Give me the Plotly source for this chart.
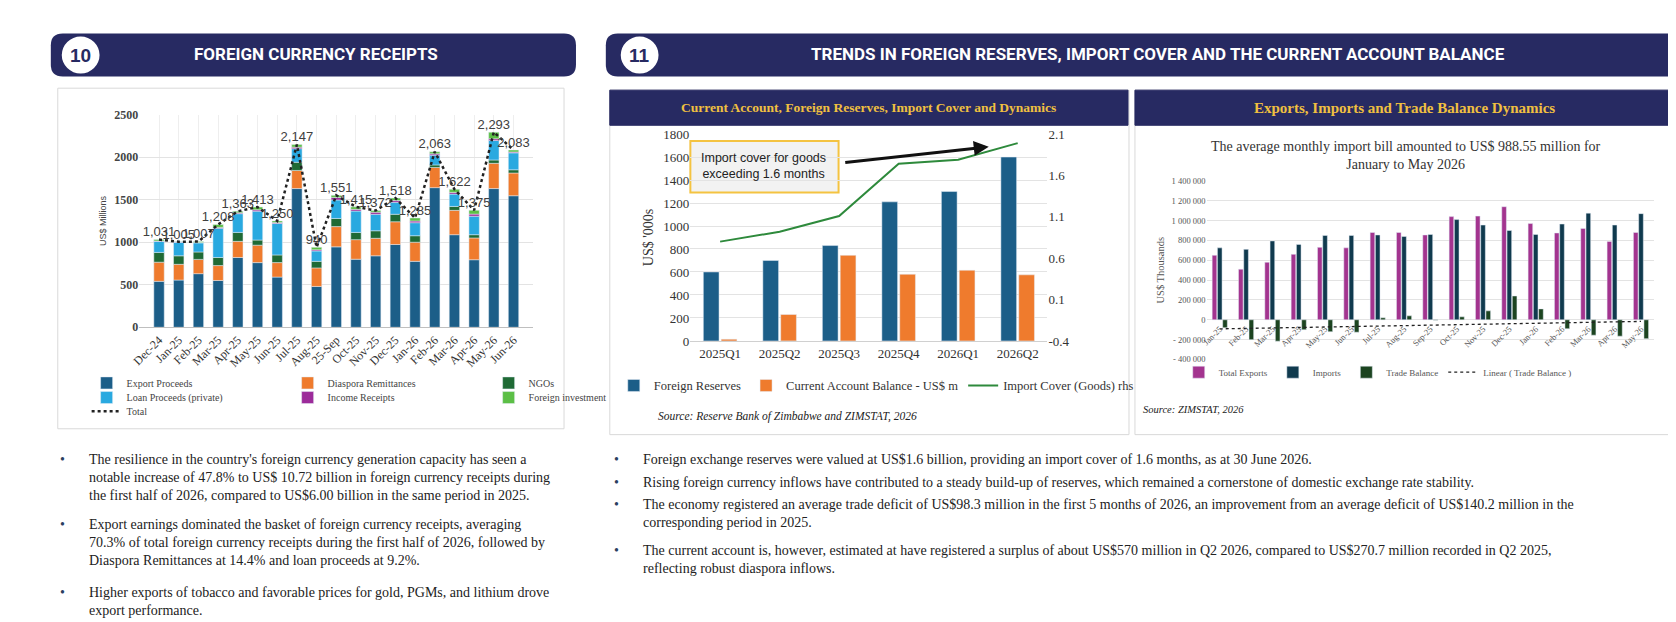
import numpy as np
import plotly.graph_objects as go

W, H = 1676, 622

# ---- chart 10: foreign currency receipts (US$ millions)
months10 = ['Dec-24', 'Jan-25', 'Feb-25', 'Mar-25', 'Apr-25', 'May-25', 'Jun-25', 'Jul-25', 'Aug-25',
            '25-Sep', 'Oct-25', 'Nov-25', 'Dec-25', 'Jan-26', 'Feb-26', 'Mar-26', 'Apr-26', 'May-26', 'Jun-26']
export_proceeds = [540, 555, 630, 550, 820, 760, 590, 1630, 480, 945, 800, 840, 973, 775, 1641, 1088, 794, 1630, 1546]
diaspora = [225, 185, 168, 175, 190, 205, 170, 213, 218, 238, 230, 206, 267, 225, 237, 286, 256, 297, 267]
ngos = [115, 100, 87, 95, 105, 60, 90, 96, 77, 96, 85, 88, 88, 76, 30, 46, 38, 39, 38]
loan_proceeds = [130, 160, 107, 344, 220, 340, 370, 160, 122, 217, 251, 194, 141, 153, 115, 145, 217, 229, 199]
income_receipts = [5, 3, 5, 10, 10, 15, 10, 18, 13, 30, 20, 25, 20, 20, 15, 20, 25, 20, 10]
foreign_inv = [16, 2, 10, 34, 18, 33, 20, 30, 30, 25, 29, 19, 29, 36, 25, 37, 45, 78, 23]
totals10 = [1031, 1005, 1007, 1208, 1363, 1413, 1250, 2147, 940, 1551, 1415, 1372, 1518, 1285, 2063, 1622, 1375, 2293, 2083]

# ---- chart 11a: reserves, current account, import cover
quarters = ['2025Q1', '2025Q2', '2025Q3', '2025Q4', '2026Q1', '2026Q2']
foreign_reserves = [600, 700, 830, 1210, 1300, 1600]
current_account = [15, 230, 745, 580, 615, 575]
import_cover = [0.80, 0.92, 1.11, 1.74, 1.79, 1.99]

# ---- chart 11b: exports, imports, trade balance (US$ thousands)
months11 = ['Jan-25', 'Feb-25', 'Mar-25', 'Apr-25', 'May-25', 'Jun-25', 'Jul-25', 'Aug-25', 'Sep-25', 'Oct-25',
            'Nov-25', 'Dec-25', 'Jan-26', 'Feb-26', 'Mar-26', 'Apr-26', 'May-26']
total_exports = [650, 510, 580, 660, 730, 725, 880, 880, 855, 1040, 1045, 1140, 970, 875, 920, 790, 880]
imports = [725, 710, 795, 760, 850, 850, 855, 840, 860, 1010, 955, 900, 860, 965, 1075, 955, 1070]
trade_balance = [-80, -200, -215, -100, -120, -125, 20, 40, -5, 30, 90, 240, 110, -90, -155, -165, -190]
total_exports = [v * 1000 for v in total_exports]
imports = [v * 1000 for v in imports]
trade_balance = [v * 1000 for v in trade_balance]

NAVY = '#272a62'
SERIF = 'Liberation Serif, Times New Roman, serif'
SANS = 'Liberation Sans, Arial, sans-serif'
NARROW = 'Liberation Sans Narrow, Roboto, sans-serif'


def px(x):
    return x / W


def py(y):
    return 1 - y / H


def rounded_rect(x0, y0, x1, y1, r, color):
    p = (f'M {px(x0 + r)} {py(y0)} L {px(x1 - r)} {py(y0)} Q {px(x1)} {py(y0)} {px(x1)} {py(y0 + r)} '
         f'L {px(x1)} {py(y1 - r)} Q {px(x1)} {py(y1)} {px(x1 - r)} {py(y1)} '
         f'L {px(x0 + r)} {py(y1)} Q {px(x0)} {py(y1)} {px(x0)} {py(y1 - r)} '
         f'L {px(x0)} {py(y0 + r)} Q {px(x0)} {py(y0)} {px(x0 + r)} {py(y0)} Z')
    return dict(type='path', path=p, xref='paper', yref='paper', fillcolor=color, line=dict(width=0), layer='below')


def rect(x0, y0, x1, y1, fill='rgba(0,0,0,0)', line='#d9d9d9', lw=1):
    return dict(type='rect', xref='paper', yref='paper', x0=px(x0), x1=px(x1), y0=py(y1), y1=py(y0),
                fillcolor=fill, line=dict(color=line, width=lw), layer='below')


fig = go.Figure()

# chart 10 stacked bars (manual base so other panels can stay grouped)
stack = [('Export Proceeds', export_proceeds, '#1c5e88'), ('Diaspora Remittances', diaspora, '#ef7b2d'),
         ('NGOs', ngos, '#1f6a35'), ('Loan Proceeds (private)', loan_proceeds, '#29a9e0'),
         ('Income Receipts', income_receipts, '#9c2b9a'), ('Foreign investment', foreign_inv, '#5cbf46')]
base = np.zeros(len(months10))
for i, (name, vals, col) in enumerate(stack):
    fig.add_trace(go.Bar(x=months10, y=vals, base=base.copy(), name=name, marker_color=col, offsetgroup='s',
                         xaxis='x', yaxis='y', legend='legend' if i < 3 else 'legend2'))
    base += np.array(vals)
fig.add_trace(go.Scatter(x=months10, y=totals10, name='Total', mode='lines+text',
                         text=[f'{v:,}' for v in totals10], textposition='top center',
                         textfont=dict(family=SANS, size=13, color='#404040'),
                         line=dict(color='#222', width=2.5, dash='dot'), xaxis='x', yaxis='y', legend='legend3'))

# chart 11a
fig.add_trace(go.Bar(x=quarters, y=foreign_reserves, name='Foreign Reserves', marker_color='#1c5e88',
                     xaxis='x2', yaxis='y2', legend='legend4'))
fig.add_trace(go.Bar(x=quarters, y=current_account, name='Current Account Balance - US$ m', marker_color='#ef7b2d',
                     xaxis='x2', yaxis='y2', legend='legend4'))
fig.add_trace(go.Scatter(x=quarters, y=import_cover, name='Import Cover (Goods) rhs', mode='lines',
                         line=dict(color='#2e8a3c', width=2), xaxis='x2', yaxis='y3', legend='legend4'))

# chart 11b
fig.add_trace(go.Bar(x=months11, y=total_exports, name='Total Exports', marker_color='#a3348f',
                     xaxis='x4', yaxis='y4', legend='legend5'))
fig.add_trace(go.Bar(x=months11, y=imports, name='Imports', marker_color='#103a4e',
                     xaxis='x4', yaxis='y4', legend='legend5'))
fig.add_trace(go.Bar(x=months11, y=trade_balance, name='Trade Balance', marker_color='#1c4420',
                     xaxis='x4', yaxis='y4', legend='legend5'))
idx = np.arange(len(months11))
slope, icpt = np.polyfit(idx, trade_balance, 1)
fig.add_trace(go.Scatter(x=months11, y=slope * idx + icpt, name='Linear ( Trade Balance )', mode='lines',
                         line=dict(color='#222', width=1.3, dash='dot'), xaxis='x4', yaxis='y4', legend='legend5'))

grid = '#e3e3e3'
fig.update_layout(
    width=W, height=H, margin=dict(l=0, r=0, t=0, b=0), paper_bgcolor='white', plot_bgcolor='white',
    barmode='group', bargap=0.4, bargroupgap=0.12, showlegend=True,
    xaxis=dict(domain=[px(123), px(519)], anchor='y', tickangle=-45,
               tickfont=dict(family=SERIF, size=12, color='#333'), showline=True, linecolor='#bfbfbf',
               showgrid=True, gridcolor='#eeeeee'),
    yaxis=dict(domain=[py(320), py(102)], anchor='x', range=[0, 2500], tickvals=list(range(0, 2501, 500)),
               tickfont=dict(family=SERIF, size=12, color='#444', weight='bold'), showgrid=True, gridcolor=grid,
               title=dict(text='US$ Millions', font=dict(family=SANS, size=9, color='#444'), standoff=6)),
    xaxis2=dict(domain=[px(677), px(1036)], anchor='y2', tickfont=dict(family=SERIF, size=13, color='#333'),
                showline=True, linecolor='#d0d0d0'),
    yaxis2=dict(domain=[py(334), py(122)], anchor='x2', range=[0, 1800], dtick=200, showgrid=True,
                gridcolor=grid, zeroline=False, tickfont=dict(family=SERIF, size=13, color='#333'),
                title=dict(text="US$ '000s", font=dict(family=SERIF, size=14, color='#333'), standoff=6)),
    yaxis3=dict(overlaying='y2', side='right', anchor='x2', range=[-0.4, 2.1],
                tickvals=[-0.4, 0.1, 0.6, 1.1, 1.6, 2.1], ticktext=['-0.4', '0.1', '0.6', '1.1', '1.6', '2.1'],
                showgrid=False, zeroline=False, tickfont=dict(family=SERIF, size=13, color='#333')),
    xaxis4=dict(domain=[px(1196), px(1646)], anchor='free', position=py(314), tickangle=-45,
                tickfont=dict(family=SERIF, size=8.5, color='#555'), showline=False),
    yaxis4=dict(domain=[py(353), py(170)], anchor='x4', range=[-400000, 1400000],
                tickvals=list(range(-400000, 1400001, 200000)),
                ticktext=[('- ' if v < 0 else '') + f'{abs(v):,}'.replace(',', ' ') for v in
                          range(-400000, 1400001, 200000)],
                showgrid=True, gridcolor=grid, zeroline=False, tickfont=dict(family=SERIF, size=8.5, color='#555'),
                title=dict(text='US$ Thousands', font=dict(family=SERIF, size=10.5, color='#555'), standoff=4)),
)

lg = dict(orientation='h', xref='paper', yref='paper', yanchor='middle', xanchor='left',
          bgcolor='rgba(0,0,0,0)', tracegroupgap=0)
fig.update_layout(
    legend=dict(lg, x=px(70), y=py(377), entrywidth=156, entrywidthmode='pixels',
                font=dict(family=SERIF, size=10, color='#444'), itemwidth=30),
    legend2=dict(lg, x=px(70), y=py(392), entrywidth=156, entrywidthmode='pixels',
                 font=dict(family=SERIF, size=10, color='#444'), itemwidth=30),
    legend3=dict(lg, x=px(70), y=py(406), entrywidth=156, entrywidthmode='pixels',
                 font=dict(family=SERIF, size=10, color='#444'), itemwidth=30),
    legend4=dict(lg, x=px(600), y=py(380), font=dict(family=SERIF, size=12.5, color='#333'), itemwidth=30),
    legend5=dict(lg, x=px(1168), y=py(366), font=dict(family=SERIF, size=9, color='#555'), itemwidth=30),
)

shapes = [
    rounded_rect(34, 19, 562, 63, 12, NAVY),
    rounded_rect(592, 19, 1673, 63, 12, NAVY),
    dict(type='circle', xref='paper', yref='paper', x0=px(45), x1=px(83), y0=py(60), y1=py(22),
         fillcolor='white', line=dict(color='white', width=0)),
    dict(type='circle', xref='paper', yref='paper', x0=px(607), x1=px(645), y0=py(60), y1=py(22),
         fillcolor='white', line=dict(color='white', width=0)),
    rect(41, 75, 550, 424),
    rect(596, 77, 1118, 430),
    rect(1124, 77, 1667, 430),
    rect(596, 77, 1117, 113, fill=NAVY, line=NAVY),
    rect(1124, 77, 1667, 113, fill=NAVY, line=NAVY),
    rect(677, 129, 826, 182, fill='#f2f2f2', line='#f4c341', lw=2),
]
fig.update_layout(shapes=shapes)

ann = [
    dict(x=px(64), y=py(41), text='<b>10</b>', font=dict(family=SANS, size=19, color=NAVY)),
    dict(x=px(626), y=py(41), text='<b>11</b>', font=dict(family=SANS, size=19, color=NAVY)),
    dict(x=px(301), y=py(40), text='<b>FOREIGN CURRENCY RECEIPTS</b>', font=dict(family=NARROW, size=17, color='white')),
    dict(x=px(1147), y=py(40), text='<b>TRENDS IN FOREIGN RESERVES, IMPORT COVER AND THE CURRENT ACCOUNT BALANCE</b>',
         font=dict(family=NARROW, size=17, color='white')),
    dict(x=px(856), y=py(95), text='<b>Current Account, Foreign Reserves, Import Cover and Dynamics</b>',
         font=dict(family=SERIF, size=13.5, color='#f0c040')),
    dict(x=px(1395), y=py(95), text='<b>Exports, Imports and Trade Balance Dynamics</b>',
         font=dict(family=SERIF, size=15, color='#f0c040')),
    dict(x=px(751), y=py(155), text='Import cover for goods<br>exceeding 1.6 months',
         font=dict(family=SANS, size=12.5, color='#222')),
    dict(x=px(1396), y=py(144), text='The average monthly import bill amounted to US$ 988.55 million for<br>January to May 2026',
         font=dict(family=SERIF, size=14, color='#333')),
    dict(x=px(642), y=py(411), xanchor='left', text='<i>Source: Reserve Bank of Zimbabwe and ZIMSTAT, 2026</i>',
         font=dict(family=SERIF, size=11.5, color='#222')),
    dict(x=px(1130), y=py(404), xanchor='left', text='<i>Source: ZIMSTAT, 2026</i>',
         font=dict(family=SERIF, size=10.5, color='#222')),
    dict(x=px(977), y=py(135), ax=-145, ay=16, axref='pixel', ayref='pixel', text='', showarrow=True,
         arrowhead=2, arrowsize=1, arrowwidth=3, arrowcolor='#111'),
]

left_bullets = [
    (446, "The resilience in the country's foreign currency generation capacity has seen a<br>"
          "notable increase of 47.8% to US$ 10.72 billion in foreign currency receipts during<br>"
          "the first half of 2026, compared to US$6.00 billion in the same period in 2025."),
    (512, "Export earnings dominated the basket of foreign currency receipts, averaging<br>"
          "70.3% of total foreign currency receipts during the first half of 2026, followed by<br>"
          "Diaspora Remittances at 14.4% and loan proceeds at 9.2%."),
    (582, "Higher exports of tobacco and favorable prices for gold, PGMs, and lithium drove<br>"
          "export performance."),
]
for y, t in left_bullets:
    ann.append(dict(x=px(41), y=py(y), xanchor='left', yanchor='top', text='•', font=dict(family=SERIF, size=14)))
    ann.append(dict(x=px(70), y=py(y), xanchor='left', yanchor='top', align='left', text=t,
                    font=dict(family=SERIF, size=14, color='#222')))

right_bullets = [
    (446, 'Foreign exchange reserves were valued at US$1.6 billion, providing an import cover of 1.6 months, as at 30 June 2026.'),
    (469, 'Rising foreign currency inflows have contributed to a steady build-up of reserves, which remained a cornerstone of domestic exchange rate stability.'),
    (492, 'The economy registered an average trade deficit of US$98.3 million in the first 5 months of 2026, an improvement from an average deficit of US$140.2 million in the<br>corresponding period in 2025.'),
    (539, 'The current account is, however, estimated at have registered a surplus of about US$570 million in Q2 2026, compared to US$270.7 million recorded in Q2 2025,<br>reflecting robust diaspora inflows.'),
]
for y, t in right_bullets:
    ann.append(dict(x=px(598), y=py(y), xanchor='left', yanchor='top', text='•', font=dict(family=SERIF, size=14)))
    ann.append(dict(x=px(627), y=py(y), xanchor='left', yanchor='top', align='left', text=t,
                    font=dict(family=SERIF, size=14, color='#222')))

for a in ann:
    a.setdefault('xref', 'paper')
    a.setdefault('yref', 'paper')
    a.setdefault('showarrow', False)
    a.setdefault('xanchor', 'center')
    a.setdefault('yanchor', 'middle')
fig.update_layout(annotations=ann)

fig.write_html('out.html')
